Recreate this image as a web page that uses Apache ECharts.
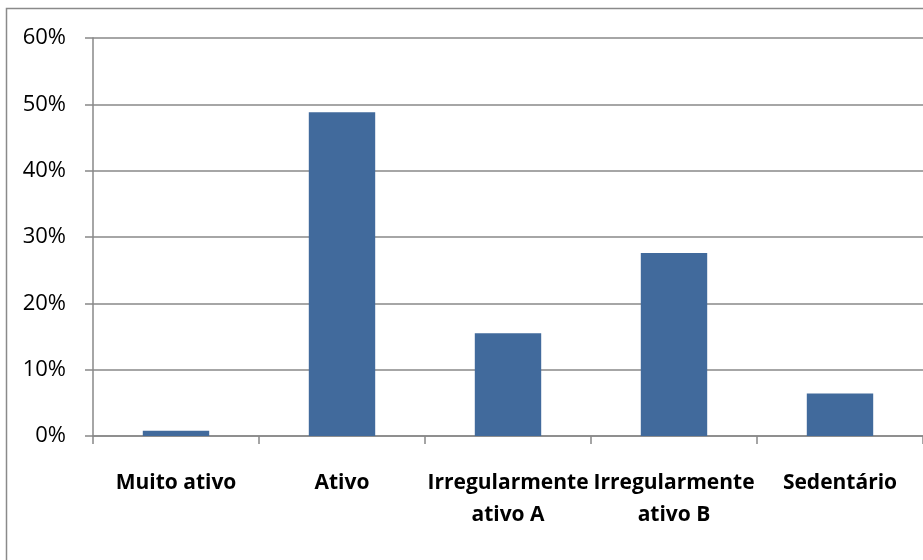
<!DOCTYPE html>
<html>
<head>
<meta charset="utf-8">
<script src="https://cdn.jsdelivr.net/npm/echarts@6/dist/echarts.min.js"></script>
<style>
  html, body { margin: 0; padding: 0; background: #fff; }
  #main { width: 923px; height: 560px; }
</style>
</head>
<body>
<div id="main"></div>
<script>
// categorias e valores (%)
var categorias = ['Muito ativo', 'Ativo', 'Irregularmente\nativo A', 'Irregularmente\nativo B', 'Sedentário'];
var valores = [0.8, 48.8, 15.5, 27.6, 6.4];
var yTicks = [0, 10, 20, 30, 40, 50, 60];

var myChart = echarts.init(document.getElementById('main'));

var option = {
    backgroundColor: '#fff',
    animation: false,
    graphic: [{
        type: 'rect',
        shape: { x: 6.5, y: 8.5, width: 1000, height: 1000 },
        style: { fill: 'none', stroke: '#8a8a8a', lineWidth: 1.5 },
        silent: true
    }],
    grid: {
        left: 93,
        top: 38,
        width: 843,
        height: 398
    },
    xAxis: {
        type: 'category',
        data: categorias,
        axisLine: { lineStyle: { color: '#888', width: 1.5 } },
        axisTick: { show: true, length: 8, alignWithLabel: false, lineStyle: { color: '#888', width: 1.5 } },
        axisLabel: {
            interval: 0,
            margin: 31,
            color: '#000',
            fontFamily: 'Open Sans',
            fontWeight: 'bold',
            fontSize: 21,
            lineHeight: 32
        }
    },
    yAxis: {
        type: 'value',
        min: yTicks[0],
        max: yTicks[yTicks.length - 1],
        interval: 10,
        axisLine: { show: true, lineStyle: { color: '#888', width: 1.5 } },
        axisTick: { show: true, length: 8, lineStyle: { color: '#888', width: 1.5 } },
        axisLabel: {
            formatter: '{value}%',
            margin: 27,
            color: '#000',
            fontFamily: 'Open Sans',
            fontSize: 22
        },
        splitLine: { lineStyle: { color: '#888', width: 1.5 } }
    },
    series: [{
        type: 'bar',
        data: valores,
        barWidth: '40%',
        itemStyle: { color: '#416a9c' }
    }]
};

myChart.setOption(option);
</script>
</body>
</html>
